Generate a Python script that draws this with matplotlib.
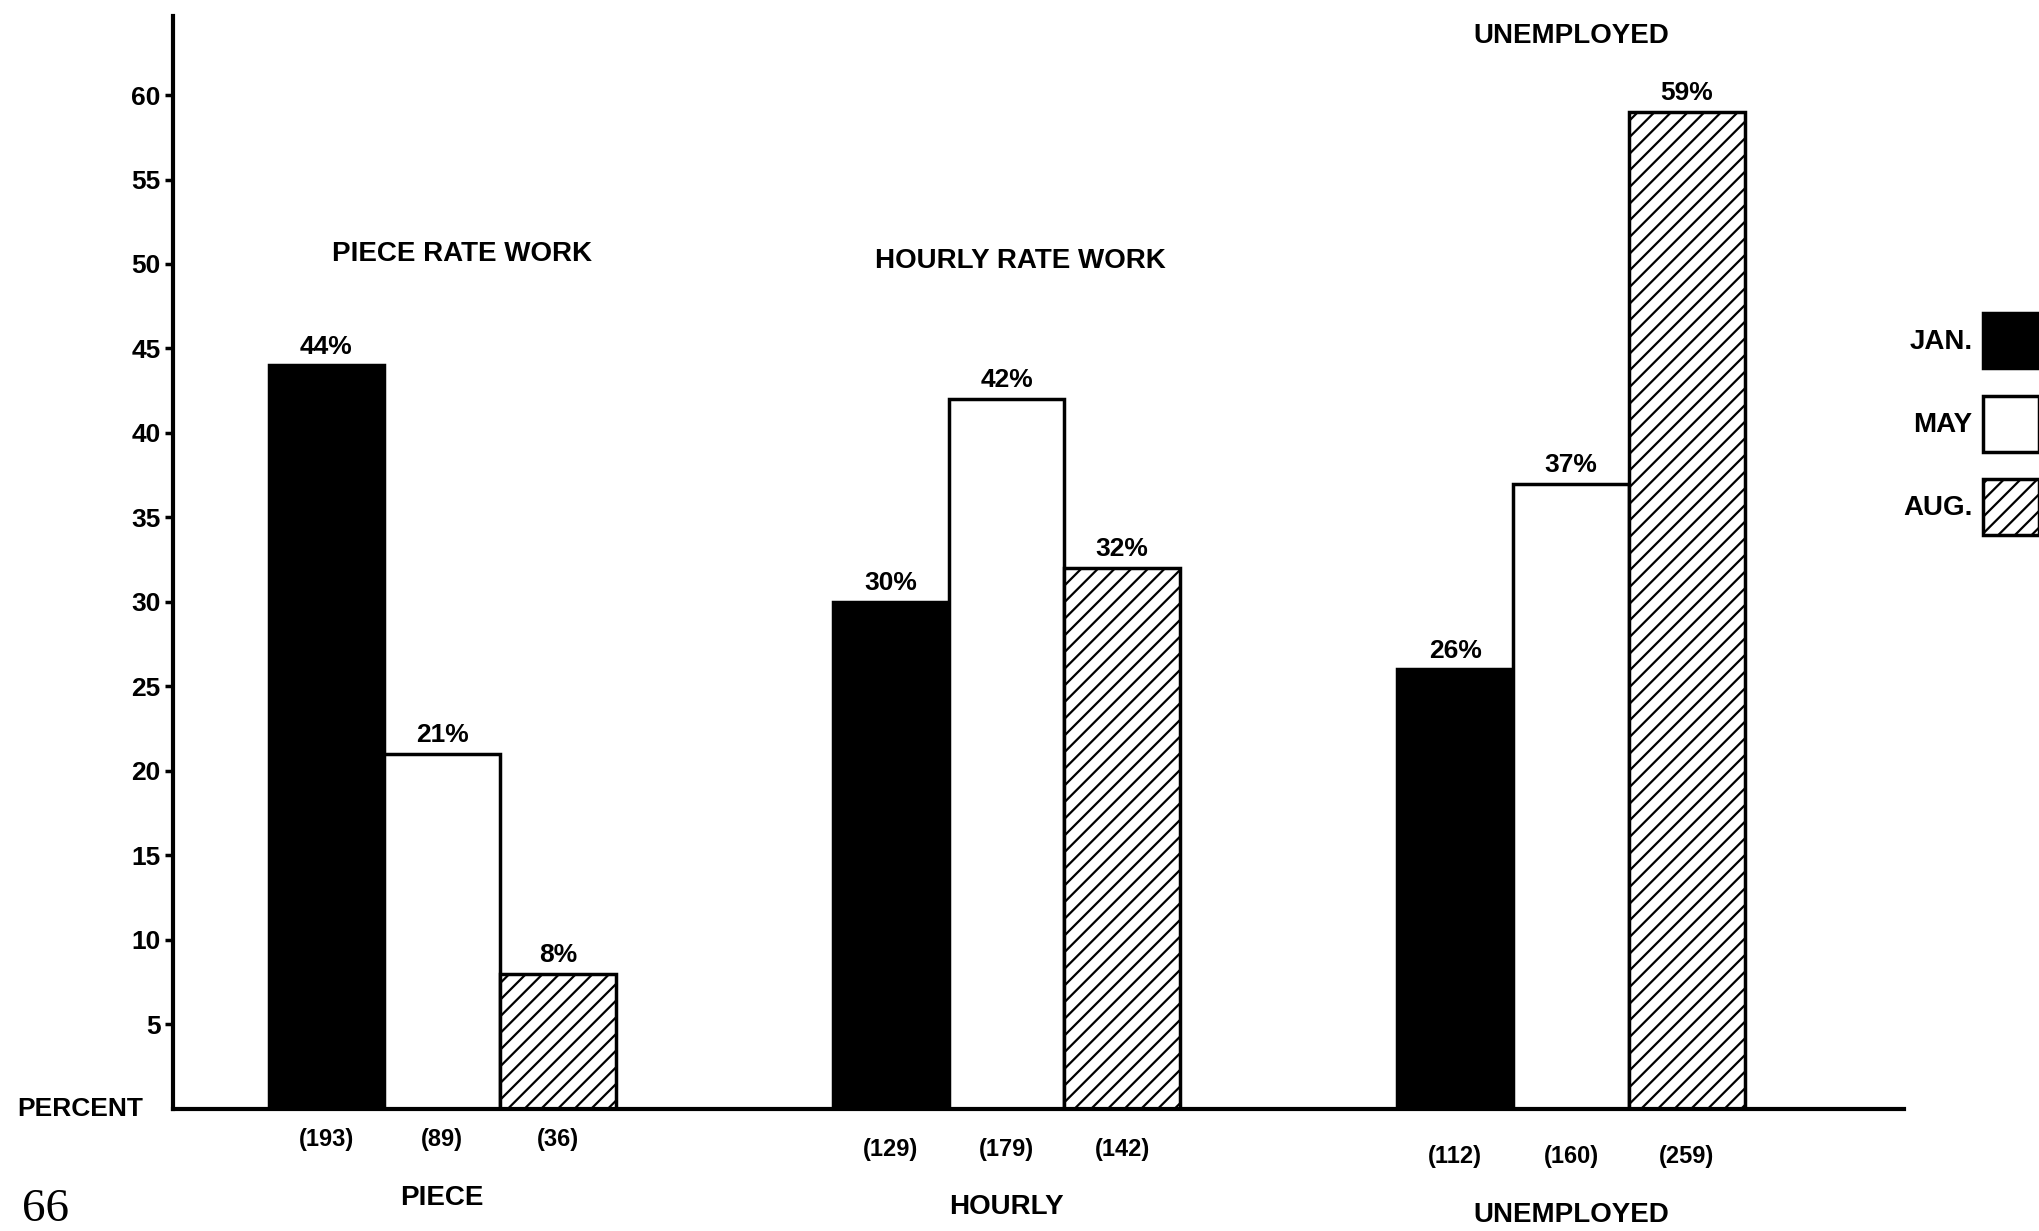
import numpy as np
import matplotlib
matplotlib.use("Agg")
import matplotlib.pyplot as plt

# --- data ---
groups = ["PIECE", "HOURLY", "UNEMPLOYED"]
titles = ["PIECE RATE WORK", "HOURLY RATE WORK", "UNEMPLOYED"]
months = ["JAN.", "MAY", "AUG."]
jan = [44, 30, 26]
may = [21, 42, 37]
aug = [8, 32, 59]
n_jan = [193, 129, 112]
n_may = [89, 179, 160]
n_aug = [36, 142, 259]
yticks = [5, 10, 15, 20, 25, 30, 35, 40, 45, 50, 55, 60]

plt.rcParams["font.family"] = ["Liberation Sans", "DejaVu Sans"]
plt.rcParams["font.weight"] = "bold"
plt.rcParams["hatch.linewidth"] = 1.6

fig = plt.figure(figsize=(20.39, 12.31), dpi=100)
ax = fig.add_axes([0.0848, 0.0993, 0.849, 0.888])

x = np.arange(len(groups))
w = 0.205
series = [(jan, n_jan, dict(color="black", edgecolor="black")),
          (may, n_may, dict(color="white", edgecolor="black")),
          (aug, n_aug, dict(color="white", edgecolor="black", hatch="//"))]
# count labels sit a bit lower for groups further right (scan is tilted)
count_y = [-1.8, -2.4, -2.85]
group_y = [-5.3, -5.8, -6.3]
title_y = [50.6, 50.2, 63.5]
title_dx = [0.035, 0.025, 0.0]

conts = []
for i, (vals, ns, style) in enumerate(series):
    pos = x + (i - 1) * w
    bc = ax.bar(pos, vals, width=w, linewidth=2.5, label=months[i], **style)
    conts.append(bc)
    for j, (p, v, n) in enumerate(zip(pos, vals, ns)):
        ax.text(p, v + 0.4, f"{v}%", ha="center", va="bottom", fontsize=19)
        ax.text(p, count_y[j], f"({n})", ha="center", va="center", fontsize=17,
                clip_on=False)

for j, g in enumerate(groups):
    ax.text(x[j], group_y[j], g, ha="center", va="center", fontsize=20, clip_on=False)
    ax.text(x[j] + title_dx[j], title_y[j], titles[j], ha="center", va="center",
            fontsize=20)

ax.set_xlim(-0.477, 2.59)
ax.set_ylim(0, 64.7)
ax.set_yticks(yticks)
ax.set_yticklabels([str(t) for t in yticks], fontsize=19)
ax.set_xticks([])
ax.tick_params(axis="y", length=6, width=2.5, pad=3)
for s in ["top", "right"]:
    ax.spines[s].set_visible(False)
ax.spines["left"].set_linewidth(3)
ax.spines["bottom"].set_linewidth(3)

ax.text(-0.53, 0, "PERCENT", ha="right", va="center", fontsize=19, clip_on=False)

fig.legend(handles=conts, labels=months, loc="upper right",
           bbox_to_anchor=(1.0, 0.746), frameon=False, markerfirst=False,
           fontsize=20, handlelength=2.0, handleheight=2.7, labelspacing=1.0,
           handletextpad=0.4, borderpad=0, borderaxespad=0)

fig.text(0.011, 0.0, "66", family="Liberation Serif", weight="normal",
         fontsize=34, ha="left", va="bottom")

fig.savefig("out.png", dpi=100)
